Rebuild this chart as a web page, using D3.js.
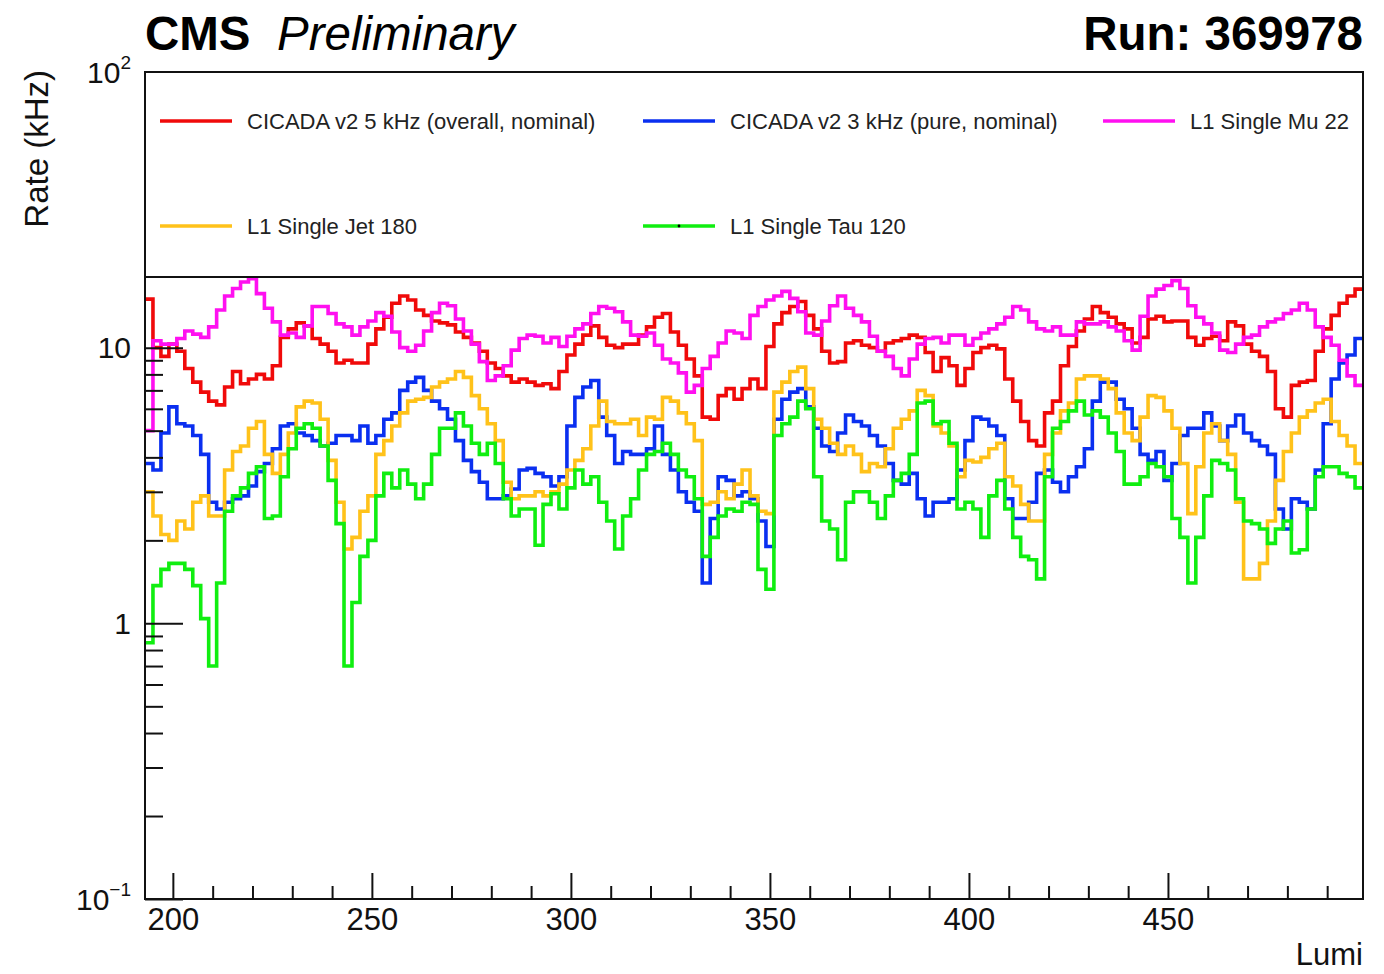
<!DOCTYPE html>
<html><head><meta charset="utf-8">
<script src="https://cdn.jsdelivr.net/npm/d3@7/dist/d3.min.js"></script>
<style>
body{margin:0;background:#fff}
svg{display:block;font-family:"Liberation Sans",Arimo,Helvetica,Arial,sans-serif}
</style>
</head><body>
<svg id="chart" width="1384" height="974"></svg>
<script>
// ---------------- data ----------------
const lumiFirst = 193, lumiLast = 499, binWidth = 2;
const lumi = d3.range(lumiFirst, lumiLast, binWidth); // lower edge of each bin

const cicada5 = [15,10,9.3,10.3,9.7,8.4,7.5,6.9,6.4,6.2,7.2,8.2,7.4,7.7,8.0,7.7,8.6,10.9,11.7,12.3,12.0,10.8,10.3,9.7,8.8,
 9.0,8.8,8.8,10.3,11.7,12.9,14.5,15.4,14.9,13.7,13.1,12.5,12.3,12.1,11.4,10.9,10.4,9.7,8.8,8.4,7.9,7.5,7.7,7.5,7.3,
 7.4,7.1,8.2,9.4,10.3,11.1,12.0,10.9,10.2,10.0,10.3,10.3,11.1,11.9,12.9,13.3,11.4,10.2,9.1,7.9,5.6,5.5,6.7,7.1,6.5,
 7.1,7.7,7.1,10.1,12.2,13.4,14.1,14.7,13.1,11.7,9.7,8.8,8.9,10.4,10.6,10.2,10.0,9.7,10.4,10.6,10.8,11.1,10.9,9.6,8.2,
 9.2,8.6,7.3,8.4,9.6,10.0,10.2,9.9,7.7,6.4,5.4,4.6,4.4,5.8,6.4,8.6,10.1,11.5,12.7,14.1,13.4,12.9,12.2,11.7,10.4,
 10.9,12.7,13.0,12.4,12.5,12.5,10.9,10.2,10.8,11.0,10.6,12.4,12.0,10.3,9.7,9.3,8.2,6.0,5.6,7.3,7.5,7.6,9.7,11.7,13.1,14.5,15.4,16.3];

const cicada3 = [3.8,3.6,4.9,6.1,5.3,5.2,4.8,4.1,2.75,2.6,2.75,2.83,2.9,3.15,3.55,3.8,4.3,5.2,5.3,4.9,4.8,4.6,4.4,4.5,4.8,
 4.8,4.6,5.2,4.5,4.8,5.5,5.8,7.0,7.5,7.8,7.0,6.4,6.0,5.5,4.6,3.9,3.55,3.25,2.83,2.83,2.9,3.07,3.6,3.65,3.5,
 3.4,3.15,3.4,5.2,6.6,7.2,7.6,5.6,4.8,3.8,4.2,4.1,4.1,4.3,5.2,4.1,3.6,3.0,2.75,2.55,1.4,2.4,3.4,3.3,2.9,
 3.0,2.83,2.35,1.9,5.5,6.5,6.9,7.1,6.1,5.1,4.4,4.2,4.9,5.7,5.4,5.2,4.8,4.4,3.8,3.3,3.2,3.5,2.83,2.45,2.75,
 2.75,2.83,3.6,4.6,5.6,5.5,5.2,4.8,2.83,2.4,2.4,2.75,3.5,3.6,3.25,3.0,3.4,3.7,4.3,6.4,7.5,7.5,6.5,6.0,5.1,
 4.1,3.9,4.2,3.3,3.8,4.8,5.1,5.1,5.8,5.2,4.6,5.2,5.7,4.9,4.6,4.4,4.1,2.6,2.2,2.83,2.75,2.6,3.6,5.3,7.7,8.8,9.4,10.8];

const singleMu22 = [5.0,10.6,10.3,10.3,10.8,11.5,11.2,10.9,11.9,13.7,15.4,16.4,17.3,17.8,15.7,13.9,12.4,11.1,11.3,10.9,12.0,14.1,14.1,13.3,12.2,
 11.9,11.1,11.9,12.5,13.4,13.0,11.4,10.0,9.7,10.2,11.5,13.4,14.5,14.2,12.7,11.5,10.3,8.9,7.6,7.9,8.6,9.8,10.8,11.1,11.0,
 10.4,10.9,10.1,11.0,11.7,12.2,13.3,14.1,13.9,13.5,12.4,11.1,11.0,11.3,10.2,9.1,8.8,8.1,6.9,7.3,8.4,9.3,10.4,11.5,11.3,
 10.8,13.1,14.1,14.9,15.4,16.0,15.1,13.5,11.3,11.1,12.5,14.2,15.4,13.9,13.1,12.4,11.0,9.7,9.3,8.4,7.9,9.1,10.3,10.8,10.9,
 10.4,11.1,11.1,10.2,10.8,11.3,11.7,12.2,12.9,14.1,13.7,12.4,11.7,11.5,11.9,11.1,11.1,12.4,12.2,12.2,12.4,11.9,11.5,10.6,9.8,
 13.0,15.4,16.3,16.8,17.5,16.4,14.2,12.9,12.2,11.3,9.8,9.6,10.3,10.9,11.1,11.9,12.4,12.7,13.3,13.7,14.5,13.7,11.9,10.9,10.2,9.0,7.9,7.3];

const singleJet180 = [3.0,2.45,2.1,2.0,2.35,2.2,2.75,2.9,2.45,2.45,3.6,4.2,4.4,5.1,5.4,4.1,3.5,4.1,4.9,6.1,6.4,6.3,5.5,3.9,2.75,
 1.86,2.05,2.55,2.9,4.1,4.6,5.2,5.8,6.4,6.5,6.6,7.2,7.5,7.7,8.2,7.8,6.7,6.0,5.3,4.6,3.25,2.83,2.9,2.9,3.0,
 2.9,3.0,3.2,3.6,3.9,4.3,5.2,6.4,5.4,5.3,5.3,5.5,4.8,5.6,5.5,6.6,6.4,5.8,5.3,4.6,2.7,2.75,3.0,2.83,3.2,
 3.6,2.9,2.55,2.5,6.9,7.5,8.2,8.5,7.1,5.5,5.1,4.5,4.1,4.4,4.1,3.55,3.8,3.7,4.3,5.1,5.5,5.9,7.0,6.7,5.2,
 4.9,4.4,3.4,3.9,3.85,4.0,4.3,4.5,3.4,3.15,2.7,2.35,2.35,4.1,4.9,5.9,6.3,7.7,7.9,7.9,7.7,7.1,5.8,4.9,4.6,
 5.6,6.7,6.6,5.9,5.1,3.8,2.5,3.7,4.9,5.3,4.6,4.1,2.75,1.45,1.45,1.65,2.35,3.3,4.2,4.9,5.6,5.9,6.3,6.5,5.4,4.8,4.4,3.8];

const singleTau120 = [0.85,1.37,1.57,1.65,1.65,1.57,1.37,1.04,0.7,1.4,2.55,2.9,3.1,3.5,3.7,2.4,2.45,3.4,4.3,5.1,5.3,5.1,4.4,3.3,2.3,
 0.7,1.19,1.75,2.0,2.9,3.5,3.1,3.6,3.2,2.83,3.2,4.1,5.1,5.1,5.8,5.2,4.5,4.1,4.5,3.8,2.83,2.45,2.6,2.6,1.92,
 2.7,2.95,2.6,3.1,3.6,3.2,3.4,2.75,2.35,1.86,2.45,2.83,3.6,4.1,4.2,4.5,4.1,3.6,3.4,2.83,1.75,2.05,2.45,2.6,2.55,
 2.75,2.7,1.57,1.33,4.8,5.3,5.6,6.4,6.0,3.4,2.35,2.2,1.7,2.75,3.0,3.0,2.75,2.4,2.9,3.3,3.5,4.1,6.3,6.4,5.3,
 5.4,4.5,2.6,2.75,2.6,2.05,2.9,3.3,2.6,2.05,1.75,1.7,1.45,3.4,5.1,5.4,5.9,6.4,5.7,5.9,5.6,4.9,4.2,3.2,3.2,
 3.4,3.8,3.7,3.4,2.4,2.05,1.4,2.05,2.9,3.9,3.8,3.6,2.83,2.35,2.3,2.2,1.95,2.2,2.35,1.8,1.85,2.6,3.4,3.7,3.7,3.5,3.4,3.1];

const seriesNames = ["CICADA v2 5 kHz (overall, nominal)","CICADA v2 3 kHz (pure, nominal)","L1 Single Mu 22","L1 Single Jet 180","L1 Single Tau 120"];
const seriesValues = [cicada5, cicada3, singleMu22, singleJet180, singleTau120];
const seriesColors = ["#f00a0a","#0a2ff0","#ff10f0","#ffc21a","#10ee10"];

const xMajorTicks = [200,250,300,350,400,450];
const xMinorTicks = d3.range(200, 500, 10).filter(v => v % 50 !== 0);
const yMajorTicks = [0.1, 1, 10, 100];
const yTickBase = ["10","1","10","10"];
const yTickExp = ["\u22121","","","2"];
const yMinorTicks = [0.1,1,10].flatMap(d => d3.range(2,10).map(k => +(k*d).toPrecision(3)));

const titleLeft = "CMS", titleItalic = "Preliminary", titleRight = "Run: 369978";
const xTitle = "Lumi", yTitle = "Rate (kHz)";

// ---------------- layout ----------------
const L = 145, R = 1363, T = 72, B = 899, legendBottom = 277;
const svg = d3.select("#chart");
const x = d3.scaleLinear().domain([lumiFirst, lumiLast]).range([L, R]);
const y = d3.scaleLog().domain([0.1, 100]).range([B, T]);

svg.append("defs").append("clipPath").attr("id","plotclip")
  .append("rect").attr("x",L).attr("y",T).attr("width",R-L).attr("height",B-T);

// series
const line = d3.line().curve(d3.curveStepAfter).x(d => x(d[0])).y(d => y(d[1]));
const gSeries = svg.append("g").attr("clip-path","url(#plotclip)");
seriesValues.forEach((vals, i) => {
  const pts = lumi.map((l, j) => [l, vals[j]]);
  pts.push([lumiLast, vals[vals.length-1]]);
  gSeries.append("path").attr("d", line(pts)).attr("fill","none")
    .attr("stroke", seriesColors[i]).attr("stroke-width",3.6).attr("stroke-linejoin","miter");
});

// x axis ticks (inside)
const gx = svg.append("g").attr("transform",`translate(0,${B})`);
gx.call(d3.axisBottom(x).tickValues(xMinorTicks).tickSize(-13).tickSizeOuter(0).tickFormat(""));
const gx2 = svg.append("g").attr("transform",`translate(0,${B})`);
gx2.call(d3.axisBottom(x).tickValues(xMajorTicks).tickSize(-26).tickSizeOuter(0).tickPadding(9));
[gx,gx2].forEach(g => { g.select(".domain").remove(); g.selectAll("line").attr("stroke","#111").attr("stroke-width",2); });
gx2.selectAll("text").attr("font-size",31).attr("fill","#111").attr("font-family","Liberation Sans, Arial, sans-serif");

// y axis ticks (inside)
const gy = svg.append("g").attr("transform",`translate(${L},0)`);
gy.call(d3.axisLeft(y).tickValues(yMinorTicks).tickSize(-18).tickSizeOuter(0).tickFormat(""));
const gy2 = svg.append("g").attr("transform",`translate(${L},0)`);
gy2.call(d3.axisLeft(y).tickValues(yMajorTicks).tickSize(-38).tickSizeOuter(0).tickFormat(""));
[gy,gy2].forEach(g => { g.select(".domain").remove(); g.selectAll("line").attr("stroke","#111").attr("stroke-width",2); });

// y tick labels with superscripts
yMajorTicks.forEach((v, i) => {
  const t = svg.append("text").attr("x", 131).attr("y", y(v)).attr("dy","0.36em")
    .attr("text-anchor","end").attr("font-size",30).attr("fill","#111");
  t.append("tspan").text(yTickBase[i]);
  if (yTickExp[i]) t.append("tspan").attr("font-size",19).attr("dy","-0.75em").text(yTickExp[i]);
});

// legend box (covers upper part of the plot)
svg.append("rect").attr("x",L).attr("y",T).attr("width",R-L).attr("height",legendBottom-T)
  .attr("fill","#fff").attr("stroke","#111").attr("stroke-width",2);
const legendPos = [[160,121],[643,121],[1103,121],[160,226],[643,226]];
seriesNames.forEach((name, i) => {
  const [lx, ly] = legendPos[i];
  svg.append("line").attr("x1",lx).attr("x2",lx+72).attr("y1",ly).attr("y2",ly)
    .attr("stroke",seriesColors[i]).attr("stroke-width",3.6);
  svg.append("text").attr("x",lx+87).attr("y",ly).attr("dy","0.36em")
    .attr("font-size",22).attr("fill","#222").text(name);
});
svg.append("circle").attr("cx",legendPos[4][0]+36).attr("cy",legendPos[4][1]).attr("r",1.4).attr("fill","#000");

// frame
svg.append("rect").attr("x",L).attr("y",T).attr("width",R-L).attr("height",B-T)
  .attr("fill","none").attr("stroke","#111").attr("stroke-width",2);

// titles
svg.append("text").attr("x",145).attr("y",50).attr("font-size",47.5).attr("font-weight","bold").attr("fill","#000").text(titleLeft);
svg.append("text").attr("x",277).attr("y",50).attr("font-size",47.5).attr("font-style","italic").attr("fill","#000").text(titleItalic);
svg.append("text").attr("x",1363).attr("y",50).attr("text-anchor","end").attr("font-size",47.5).attr("font-weight","bold").attr("fill","#000").text(titleRight);
svg.append("text").attr("x",1363).attr("y",965).attr("text-anchor","end").attr("font-size",31).attr("fill","#111").text(xTitle);
svg.append("text").attr("transform","translate(48,70) rotate(-90)").attr("text-anchor","end")
  .attr("font-size",33).attr("fill","#111").text(yTitle);
</script>
</body></html>
